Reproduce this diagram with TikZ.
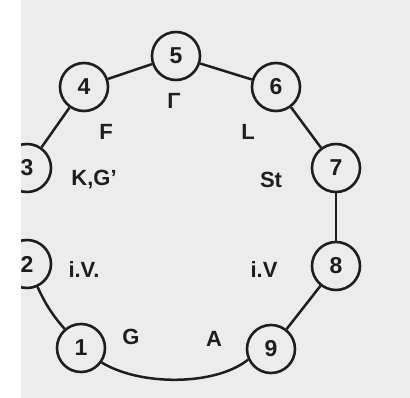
\documentclass[tikz,border=0pt]{standalone}
\usepackage{fontspec}
\setmainfont{Liberation Sans}
\definecolor{bg}{RGB}{236,236,236}
\definecolor{ink}{RGB}{30,30,30}
\tikzset{
  circ/.style={circle,draw=ink,line width=2.6pt,minimum size=48pt,inner sep=0pt,
    font=\fontsize{23}{23}\selectfont\bfseries,text=ink},
  lab/.style={font=\fontsize{22}{22}\selectfont\bfseries,text=ink,inner sep=0pt},
  conn/.style={draw=ink,line width=2.5pt}
}
\begin{document}
\begin{tikzpicture}[x=1pt,y=-1pt]
\useasboundingbox (0,0) rectangle (410,398);
\fill[white] (0,0) rectangle (410,398);
\fill[bg] (21,0) rectangle (410,398);
\begin{scope}
\clip (21,0) rectangle (410,398);
\node[circ] (n5) at (176,56) {5};
\node[circ] (n4) at (84,87) {4};
\node[circ] (n6) at (276,87) {6};
\node[circ] (n7) at (336,168) {7};
\node[circ] (n3) at (27,168) {3};
\node[circ] (n2) at (27,264) {2};
\node[circ] (n8) at (336,266) {8};
\node[circ] (n1) at (81,348) {1};
\node[circ] (n9) at (271,349) {9};
\path[conn] (n4) -- (n5);
\path[conn] (n5) -- (n6);
\path[conn] (n4) -- (n3);
\path[conn] (n6) -- (n7);
\path[conn] (n7) -- (n8);
\path[conn] (n8) -- (n9);
\path[conn] (n2) to[bend right=8] (n1);
\path[conn] (n1.-35) .. controls (140,386) and (215,386) .. (n9.205);
\node[lab] (lg) at (174,101) {Γ};
\node[lab] (lf) at (106,132) {F};
\node[lab] (lkg) at (94,180) {K,G'};
\node[lab] (ll) at (248,132) {L};
\node[lab] (lst) at (271,180) {St};
\node[lab] (liv1) at (84,270) {i.V.};
\node[lab] (liv2) at (264,270) {i.V};
\node[lab] (lg2) at (131,337) {G};
\node[lab] (la) at (214,339) {A};
\end{scope}
\end{tikzpicture}
\end{document}
